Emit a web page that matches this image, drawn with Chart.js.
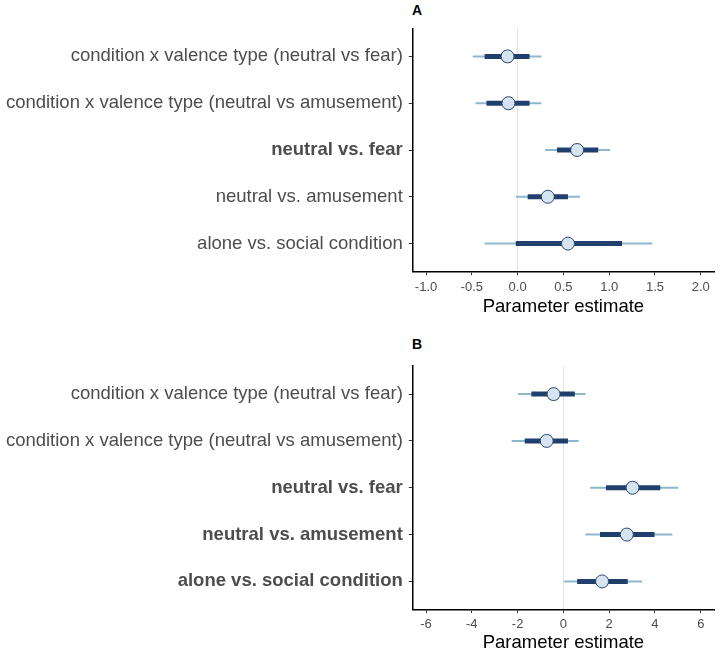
<!DOCTYPE html>
<html>
<head>
<meta charset="utf-8">
<script src="https://cdn.jsdelivr.net/npm/chart.js@4.4.1/dist/chart.umd.min.js"></script>
<style>
  html, body { margin: 0; padding: 0; background: #fff; overflow: hidden; }
  body { width: 722px; height: 652px; position: relative; }
  canvas { position: absolute; left: 0; }
  .plab { position: absolute; font-family: "Liberation Sans", Arial, sans-serif; font-weight: bold; font-size: 14px; line-height: 14px; color: #000; }
</style>
</head>
<body>
<div class="plab" style="left:412px; top:3px;">A</div>
<div class="plab" style="left:412px; top:337px;">B</div>
<canvas id="cA" width="722" height="326" style="top:0px;"></canvas>
<canvas id="cB" width="722" height="326" style="top:326px;"></canvas>
<script>
// Row labels (top to bottom)
const termLabels = [
  "condition x valence type (neutral vs fear)",
  "condition x valence type (neutral vs amusement)",
  "neutral vs. fear",
  "neutral vs. amusement",
  "alone vs. social condition"
];
const boldA = [false, false, true, false, false];
const boldB = [false, false, true, true, true];

// Panel A estimates and intervals
const estA  = [-0.11, -0.10, 0.65, 0.33, 0.55];
const lo50A = [-0.36, -0.34, 0.43, 0.11, -0.02];
const hi50A = [0.13, 0.13, 0.88, 0.55, 1.14];
const lo95A = [-0.49, -0.46, 0.30, -0.02, -0.36];
const hi95A = [0.26, 0.26, 1.01, 0.68, 1.47];
const ticksA = [-1.0, -0.5, 0.0, 0.5, 1.0, 1.5, 2.0];

// Panel B estimates and intervals
const estB  = [-0.43, -0.73, 3.02, 2.77, 1.69];
const lo50B = [-1.40, -1.69, 1.86, 1.60, 0.60];
const hi50B = [0.50, 0.20, 4.23, 3.98, 2.81];
const lo95B = [-1.98, -2.26, 1.17, 0.96, 0.03];
const hi95B = [0.97, 0.67, 5.01, 4.76, 3.44];
const ticksB = [-6, -4, -2, 0, 2, 4, 6];

const FONT = '"Liberation Sans", Arial, sans-serif';
const THIN = '#8cb7ce';
const THICK = '#213f6c';
const PFILL = '#d5e4ee';
const PBORD = '#2a4770';

function makeChart(id, est, lo50, hi50, lo95, hi95, xticks, xmin, xmax, bold, fmt, padTop, plotBottom, titlePad) {
  const datasets = [];
  for (let i = 0; i < est.length; i++) {
    datasets.push({
      type: 'line', order: 2,
      data: [{x: lo95[i], y: i + 1}, {x: hi95[i], y: i + 1}],
      borderColor: THIN, borderWidth: 2, pointRadius: 0, borderCapStyle: 'butt', showLine: true
    });
  }
  for (let i = 0; i < est.length; i++) {
    datasets.push({
      type: 'line', order: 1,
      data: [{x: lo50[i], y: i + 1}, {x: hi50[i], y: i + 1}],
      borderColor: THICK, borderWidth: 5, pointRadius: 0, borderCapStyle: 'butt', showLine: true
    });
  }
  datasets.push({
    type: 'scatter', order: 0,
    data: est.map((v, i) => ({x: v, y: i + 1})),
    pointRadius: 6.5, pointBackgroundColor: PFILL, pointBorderColor: PBORD, pointBorderWidth: 1,
    showLine: false
  });
  const H = 326;
  return new Chart(document.getElementById(id), {
    type: 'scatter',
    data: { datasets },
    options: {
      responsive: false, animation: false, devicePixelRatio: 1,
      layout: { padding: { top: padTop, right: 1.5, bottom: 0, left: 0 } },
      plugins: { legend: { display: false }, tooltip: { enabled: false } },
      scales: {
        x: {
          type: 'linear', min: xmin, max: xmax,
          afterBuildTicks: (s) => { s.ticks = xticks.map(v => ({value: v})); },
          afterFit: (s) => { s.height = H - plotBottom; },
          border: { display: true, color: '#000', width: 1.5 },
          grid: {
            drawOnChartArea: true, drawTicks: true, tickLength: 3.5, tickWidth: 1,
            color: (c) => (c.tick && c.tick.value === 0) ? '#e4e4e4' : 'rgba(0,0,0,0)',
            tickColor: '#333', lineWidth: 1
          },
          ticks: {
            color: '#4d4d4d', font: { family: FONT, size: 13 }, padding: 4,
            maxRotation: 0, autoSkip: false,
            callback: (v) => fmt(v)
          },
          title: {
            display: true, text: 'Parameter estimate', color: '#000',
            font: { family: FONT, size: 18.5, lineHeight: 1 },
            padding: { top: 0, bottom: titlePad }
          }
        },
        y: {
          type: 'linear', min: 0.4, max: 5.6, reverse: true,
          afterBuildTicks: (s) => { s.ticks = [1, 2, 3, 4, 5].map(v => ({value: v})); },
          afterFit: (s) => { s.width = 412.3; },
          border: { display: true, color: '#000', width: 1.5 },
          grid: { drawOnChartArea: false, drawTicks: true, tickLength: 3.5, tickColor: '#333', tickWidth: 1 },
          ticks: {
            color: '#4d4d4d', padding: 6, autoSkip: false,
            font: (c) => ({ family: FONT, size: 18.5, weight: bold[c.index] ? 'bold' : 'normal' }),
            callback: (v) => termLabels[Math.round(v) - 1]
          }
        }
      }
    }
  });
}

makeChart('cA', estA, lo50A, hi50A, lo95A, hi95A, ticksA, -1.15, 2.15, boldA,
  (v) => v.toFixed(1), 28.3, 271.7, 10.25);
makeChart('cB', estB, lo50B, hi50B, lo95B, hi95B, ticksB, -6.6, 6.6, boldB,
  (v) => String(v), 40, 283.5, 0);
</script>
</body>
</html>
